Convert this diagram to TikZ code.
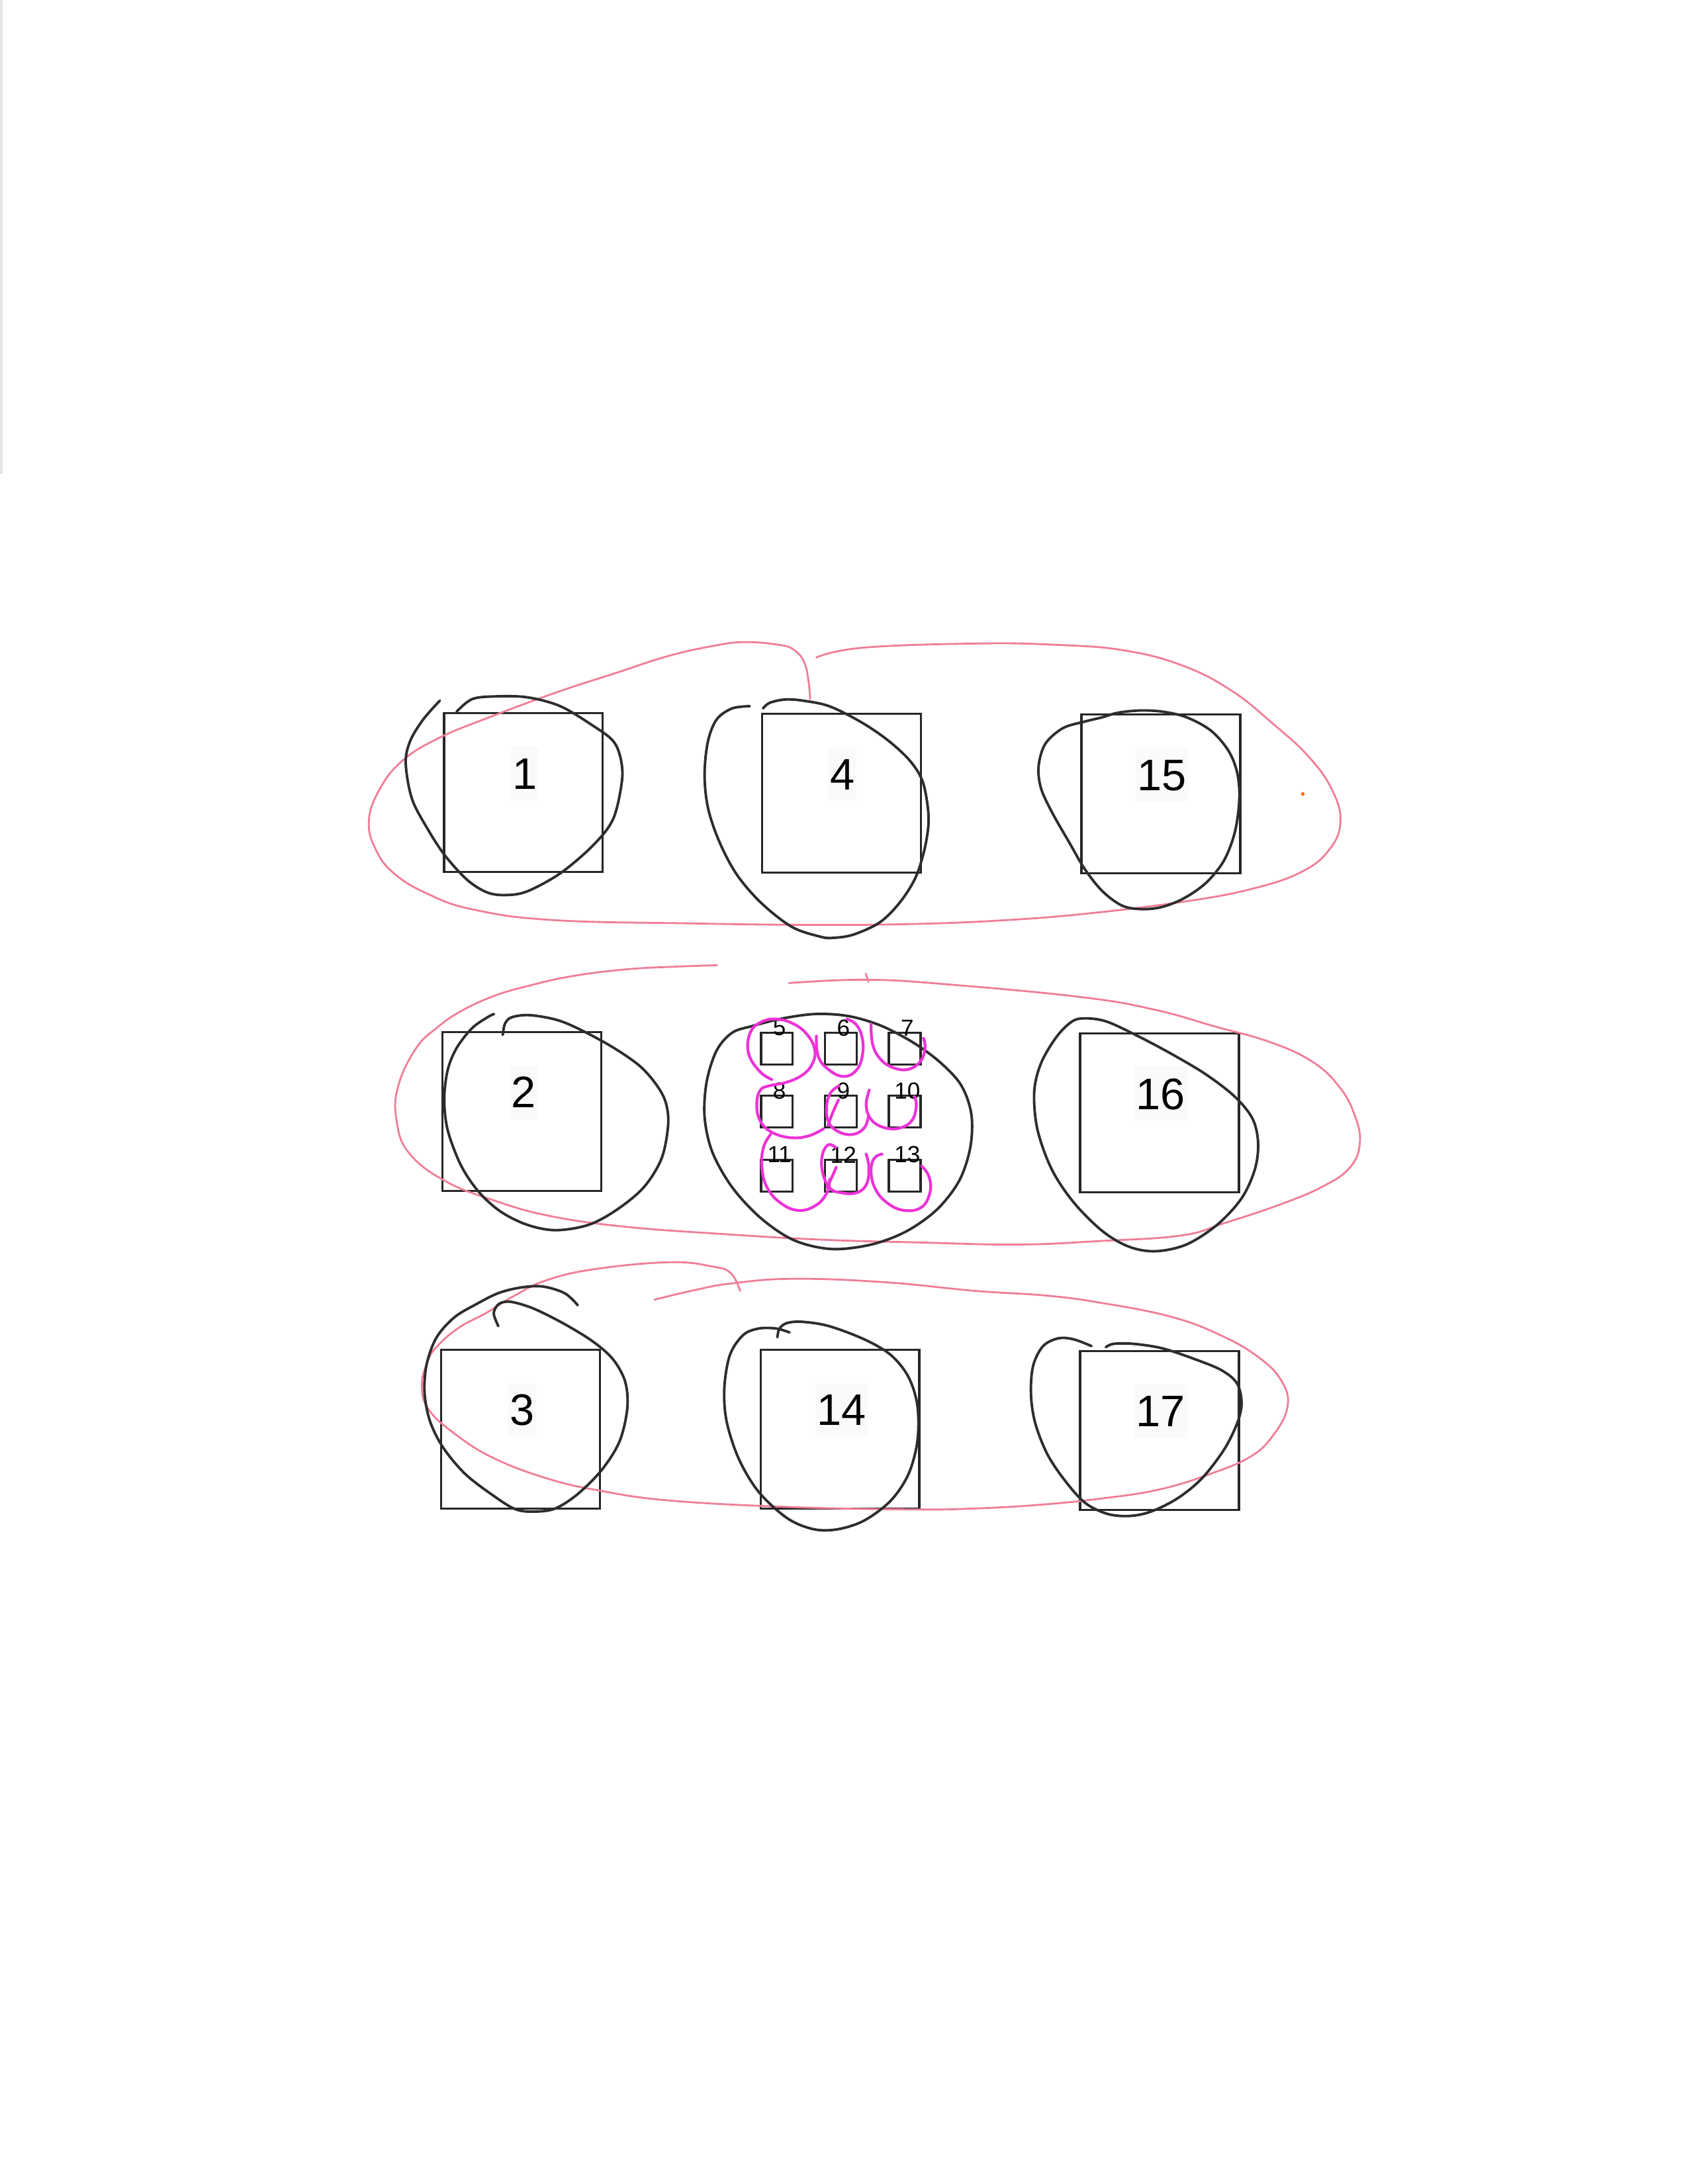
\documentclass[tikz,border=0pt]{standalone}
\usepackage{fontspec}
\setmainfont{Liberation Sans}
\definecolor{pinkc}{RGB}{240,125,150}
\definecolor{magc}{RGB}{236,50,214}
\definecolor{loopc}{RGB}{45,45,45}
\definecolor{labbg}{RGB}{249,250,252}
\tikzset{
 bigsq/.style={draw=black!85, line width=1pt, minimum size=2.4cm, inner sep=0pt},
 smsq/.style={draw=black!85, line width=1pt, minimum size=0.48cm, inner sep=0pt},
 biglab/.style={font=\fontsize{19}{22}\selectfont, fill=labbg, inner xsep=0.25mm, inner ysep=0.3mm, text height=6.1mm, text depth=1.4mm},
 smlab/.style={font=\fontsize{10}{12}\selectfont, inner sep=0pt},
 blackloop/.style={draw=loopc, line width=1.1pt, line cap=round, line join=round},
 pinkloop/.style={draw=pinkc, line width=0.8pt, line cap=round, line join=round},
 magloop/.style={draw=magc, line width=1.2pt, line cap=round, line join=round},
}
\begin{document}
\begin{tikzpicture}[x=0.02104cm, y=-0.02105cm]
\useasboundingbox (0,0) rectangle (1212,1568);
\fill[black!10] (0,0) rectangle (2,340);
\fill[orange!80!red] (936,570) circle (1.3);

% big squares
\foreach \n/\x/\y in {1/376/569, 4/604.5/569.5, 15/834/570, 2/375/798, 16/833/799, 3/374/1026, 14/603.5/1026, 17/833/1027}{
  \node[bigsq] (s\n) at (\x,\y) {};
  \node[biglab] (l\n) at ([xshift=0.02cm,yshift=0.29cm]s\n.center) {\n};
}
% small squares
\foreach \n/\x/\y in {5/558.1/752.9, 6/604.0/752.9, 7/649.95/752.9, 8/558.1/798.1, 9/604.0/798.1, 10/649.95/798.1, 11/558.1/844.0, 12/604.0/844.0, 13/649.95/844.0}{
  \node[smsq] (s\n) at (\x,\y) {};
  \node[smlab] (l\n) at ([xshift=0.04cm,yshift=0.315cm]s\n.center) {\n};
}

% pink row loops
\draw[pinkloop] plot[smooth, tension=0.7] coordinates {(586.5,472) (620,465) (702.5,462) (760,463) (808,467) (850,478) (885,496) (915,520) (940,543) (957,567) (963,590) (955,610) (935,626) (900,638) (852.7,647) (780,656) (716,661) (650,663.5) (580,664) (500,663) (398,660.6) (340,653) (307,641.6) (283,627) (270,610) (265,590) (272,568) (288.6,546.6) (315,530) (352,514.8) (400,497) (443,483) (480,471) (511,464) (534,461) (560,463) (571,467) (578,476) (581,490) (582,502)};
\draw[pinkloop] plot[smooth, tension=0.7] coordinates {(566.8,705.8) (623,703.4) (684,707) (778,716) (830,725) (872,736.7) (912,748) (942.5,762) (962,780) (973,800) (977,820) (970,838) (950,852) (919,865) (880,878) (848.7,887) (790,891) (731,893.5) (660,892) (590,890) (520,886) (449,880.7) (395,873) (355.4,862) (320,848) (294,828) (285,805) (286,780) (299,752.5) (315,737) (331.8,725.6) (355,715) (378.8,708) (410,701) (449,696) (485,694) (515,693)};
\draw[pinkloop] (622,699) -- (624,705);
\draw[pinkloop] plot[smooth, tension=0.7] coordinates {(470.2,933.1) (500,926) (525.1,921.5) (569.1,918.1) (635,920.5) (700.9,926.8) (750,930) (788.8,935) (840,945) (876.7,958.5) (905,975) (921,992) (925,1010) (915,1030) (898.7,1045.6) (870,1058) (832.7,1069.4) (790,1076) (744.9,1080.5) (700,1083) (657,1083.7) (569.1,1082) (481.2,1077.3) (430,1070) (393.3,1061.5) (355,1047) (327.3,1029.8) (308,1012) (303.1,995) (307,978) (314.2,966.4) (330,953) (349.3,942.6) (370,930) (393.3,918.9) (428.4,911) (481.2,906.2) (511.9,909.3) (525.1,914.1) (531.7,926.8)};

% black loops
\draw[blackloop] plot[smooth, tension=0.55] coordinates {(328,511) (339,502) (355,500) (378.6,500.6) (402.5,507) (426,521) (440.5,532) (446,545) (446.8,561) (440.5,588) (426,607) (402.5,627) (378.6,640) (363,642.6) (350,640.7) (336,632) (320,614.6) (307.5,595.6) (296,573.6) (291.5,548) (294.7,532) (304,516.6) (316,503)};
\draw[blackloop] plot[smooth, tension=0.55] coordinates {(548.2,508.6) (552.9,504.6) (564,502.2) (576.7,503) (595.7,507) (617.9,518) (636.9,530.7) (652.7,545) (662.2,559.3) (666.2,576.7) (667,592.5) (663.8,611.5) (657.5,630.6) (646.4,648) (632.1,662.2) (613.1,671) (598.9,673.3) (589.4,672.5) (568.8,665.4) (546.6,648) (529,627.4) (516.5,603.6) (508.6,579.8) (506.2,556) (508.6,532.3) (514.9,516.5) (526,508.6) (538.7,507)};
\draw[blackloop] plot[smooth cycle, tension=0.55] coordinates {(751,534) (746.2,549.8) (747.8,565.6) (755.7,583) (768.4,605.2) (779.5,624.2) (792.2,640) (806.4,650.3) (820.7,652.7) (835,651.1) (850.8,644.8) (866.6,633.7) (879.3,617.9) (887.2,597.3) (890.4,573.5) (888.8,554.5) (882.4,538.7) (869.8,524.4) (852.3,514.9) (835,510.9) (819,510.1) (803.2,511.7) (792.2,514.9) (779.5,518) (763.6,522.8)};
\draw[blackloop] plot[smooth, tension=0.55] coordinates {(361.2,743) (362.8,735) (367.5,730.4) (380.2,728.8) (399.2,732) (415,738.3) (438.8,751) (459.5,765.2) (472.1,779.5) (478.5,792.2) (480,808) (475.3,831.7) (462.6,852.3) (443.6,868.2) (423,879.3) (399.2,883.2) (378.7,879.3) (359.6,869.8) (343.8,855.5) (331.1,836.5) (321.6,811.2) (319.2,789) (321.6,768.4) (328,752.5) (339,738.3) (350.1,730.4) (354.9,728)};
\draw[blackloop] plot[smooth cycle, tension=0.55] coordinates {(743,784.2) (747.8,763.6) (758.9,744.6) (770,733.5) (779.5,731.1) (795.3,733.5) (819,744.6) (842.8,757.3) (866.6,771.5) (887.2,787.4) (899.9,803.2) (903.9,820.7) (901.5,839.7) (892,860.3) (874.5,879.3) (852.3,893.5) (830.2,898.3) (811.2,895.1) (792.2,884) (771.5,863.4) (755.7,839.7) (745.4,811.2)};
\draw[blackloop] plot[smooth, tension=0.55] coordinates {(415.1,937.1) (405.6,928.4) (389.7,923.6) (373.9,924.4) (358,928.4) (342.2,936.3) (326.4,945.8) (313.7,960.1) (306.6,979.1) (305,999.7) (308.9,1020.3) (318.4,1039.3) (334.3,1058.3) (354.9,1074.1) (370.7,1083.7) (385,1085.2) (399.2,1082.9) (415.1,1072.6) (432.5,1055.1) (445.2,1034.6) (450.7,1010.8) (449.1,991.8) (440.4,975.9) (426.2,963.3) (405.6,950.6) (383.4,939.5) (367.5,934.7) (359.6,935.5) (355.7,939.5) (354.9,944.2) (358,952.1)};
\draw[blackloop] plot[smooth, tension=0.55] coordinates {(567.2,956.6) (557.7,953.8) (545,953.8) (533.9,958.5) (524.4,972.8) (520.4,996.5) (522,1020.3) (530.7,1047.2) (545,1071) (565.6,1090) (584.6,1097.9) (602,1097.9) (621,1091.6) (640,1077.3) (652.7,1058.3) (659.1,1034.6) (659.1,1009.2) (652.7,988.6) (640,972.8) (621,961.6) (595.7,952.1) (576.7,949) (565.6,949.8) (560,953.8) (558.5,960.1)};
\draw[blackloop] plot[smooth, tension=0.55] coordinates {(784.2,966.4) (771.5,961.6) (760.5,960.8) (749.4,966.4) (742.2,980.7) (740.7,1001.3) (743.8,1021.9) (752.5,1044.1) (765.2,1063.1) (779.5,1078.9) (795.3,1086.8) (811.2,1088.4) (827,1085.2) (846,1075.7) (863.4,1061.5) (879.3,1040.9) (888.8,1021.9) (892,1007.6) (888.8,993.3) (877.7,983.8) (858.7,975.9) (835,968) (814.3,964.8) (800,964.8) (794.5,967.2)};

% cluster loop and magenta loops (local coordinates of the cluster)
\begin{scope}[shift={(499.05,712.93)}, scale=0.15843]
\draw[blackloop] plot[smooth cycle, tension=0.55] coordinates {(550,95) (700,105) (850,150) (1000,230) (1120,320) (1210,420) (1255,550) (1250,700) (1200,850) (1100,980) (960,1080) (800,1140) (620,1160) (450,1120) (300,1020) (170,880) (80,720) (45,560) (55,400) (100,260) (170,180) (260,150) (400,115)};
\draw[magloop] plot[smooth, tension=0.7] coordinates {(350,392) (295,355) (245,275) (250,185) (295,135) (365,118) (445,138) (510,188) (545,258) (533,322) (488,372) (415,405) (340,420) (298,440) (282,500) (295,575) (345,628) (430,655) (515,648) (585,615)};
\draw[magloop] plot[smooth, tension=0.7] coordinates {(552,195) (560,285) (605,345) (675,378) (735,348) (762,275) (758,195) (730,140) (690,118)};
\draw[magloop] plot[smooth, tension=0.7] coordinates {(800,140) (808,235) (845,302) (905,340) (972,345) (1025,308) (1045,250) (1038,205)};
\draw[magloop] plot[smooth, tension=0.7] coordinates {(655,420) (615,455) (598,520) (610,590) (660,632) (722,640) (770,610) (788,560)};
\draw[magloop] plot[smooth, tension=0.7] coordinates {(652,485) (625,545) (605,600)};
\draw[magloop] plot[smooth, tension=0.7] coordinates {(792,440) (778,510) (802,575) (860,610) (930,612) (985,578) (1005,515) (998,470)};
\draw[magloop] plot[smooth, tension=0.7] coordinates {(345,640) (312,700) (305,790) (328,880) (388,950) (470,985) (550,962) (600,905) (612,845)};
\draw[magloop] plot[smooth, tension=0.7] coordinates {(640,700) (605,688) (578,740) (582,820) (615,885) (665,905) (735,905) (780,865) (790,790) (778,730)};
\draw[magloop] plot[smooth, tension=0.7] coordinates {(642,790) (620,840) (600,880)};
\draw[magloop] plot[smooth, tension=0.7] coordinates {(850,730) (815,748) (800,805) (818,885) (872,950) (950,985) (1030,970) (1068,900) (1062,830) (1030,785)};
\end{scope}
\end{tikzpicture}
\end{document}
